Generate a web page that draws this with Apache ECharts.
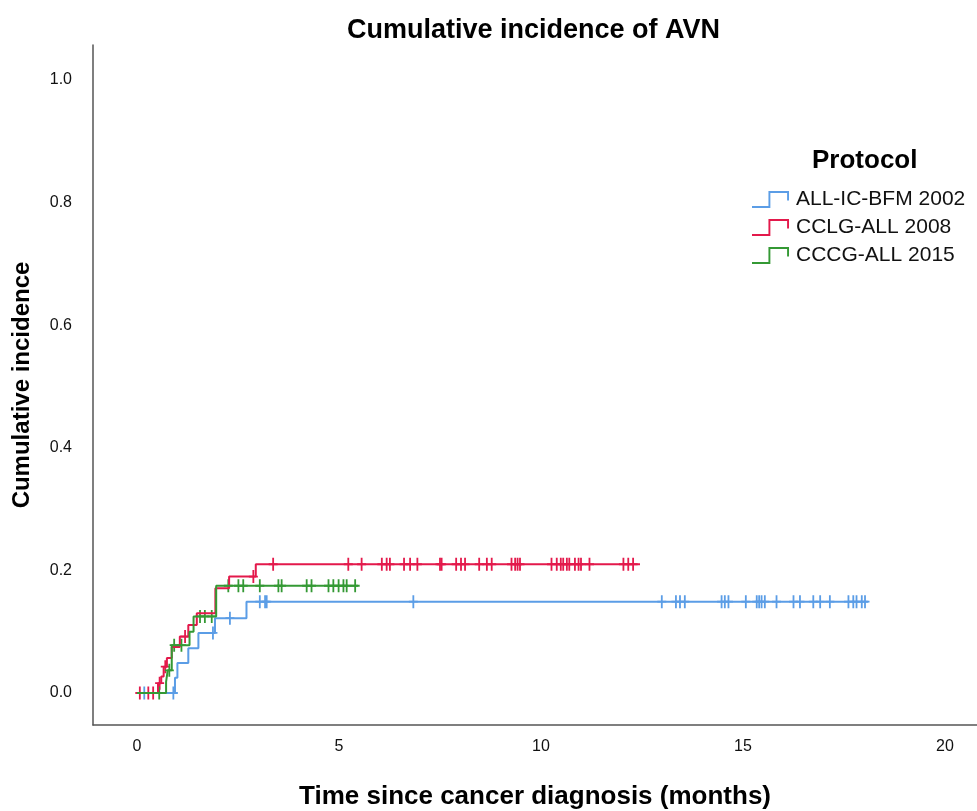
<!DOCTYPE html>
<html>
<head>
<meta charset="utf-8">
<title>Cumulative incidence of AVN</title>
<script src="https://cdn.jsdelivr.net/npm/echarts@6/dist/echarts.min.js"></script>
<style>
  html, body { margin: 0; padding: 0; background: #fff; }
  #chart { width: 977px; height: 811px; }
</style>
</head>
<body>
<div id="chart"></div>
<script>
// step curves: time of each event (months) and cumulative incidence after it
const blueName = 'ALL-IC-BFM 2002'
const blueTimes = [0, 0.94, 1.00, 1.27, 1.52, 1.93, 2.71]
const blueValues = [0, 0.025, 0.049, 0.073, 0.098, 0.122, 0.149]
const blueEnd = 18.10
const blueCensored = [0.18, 0.90, 1.88, 2.30, 3.04, 3.17, 3.21, 6.84,
  12.99, 13.34, 13.44, 13.56, 14.47, 14.55, 14.64, 15.07, 15.34, 15.40, 15.46,
  15.54, 15.83, 16.25, 16.41, 16.74, 16.91, 17.15, 17.61, 17.73, 17.81, 17.94, 18.02]

const redName = 'CCLG-ALL 2008'
const redTimes = [0, 0.52, 0.60, 0.66, 0.74, 0.86, 1.06, 1.27, 1.48, 1.94, 2.28, 2.94]
const redValues = [0, 0.016, 0.027, 0.043, 0.057, 0.075, 0.092, 0.111, 0.130, 0.171, 0.190, 0.210]
const redEnd = 12.45
const redCensored = [0.07, 0.28, 0.40, 0.56, 0.70, 1.19, 2.88, 3.37,
  5.23, 5.56, 6.06, 6.18, 6.26, 6.61, 6.76, 6.94, 7.50, 7.54, 7.90, 8.02, 8.12,
  8.47, 8.66, 8.78, 9.27, 9.36, 9.42, 9.48, 10.26, 10.39, 10.49, 10.55, 10.64,
  10.70, 10.84, 10.93, 10.99, 11.20, 12.04, 12.16, 12.28]

const greenName = 'CCCG-ALL 2015'
const greenTimes = [0, 0.72, 0.76, 0.86, 1.30, 1.40, 1.96]
const greenValues = [0, 0.018, 0.037, 0.078, 0.100, 0.125, 0.175]
const greenEnd = 5.47
const greenCensored = [0.55, 0.80, 0.92, 1.10, 1.56, 1.68, 1.85, 2.26, 2.51, 2.63,
  3.04, 3.50, 3.58, 4.20, 4.32, 4.74, 4.86, 4.99, 5.11, 5.19, 5.40]

const xTicks = [0, 5, 10, 15, 20]
const yTicks = [0, 0.2, 0.4, 0.6, 0.8, 1.0]

const colors = {
  blue: '#5b9de6',
  red: '#e3194b',
  green: '#349934',
}

const font = "'Liberation Sans', Arial, sans-serif"
const stepIcon = 'path://M0,11 L12,11 L12,0 L27,0 L27,7 L25.6,7 L25.6,1.4 L13.4,1.4 L13.4,12.4 L0,12.4 Z'
const censorMark = 'path://M4,0 L6,0 L6,13 L4,13 Z M0,5.6 L10,5.6 L10,7.4 L0,7.4 Z'

function buildSteps(times, values, end) {
  const points = times.map((t, i) => [t, values[i]])
  points.push([end, values[values.length - 1]])
  return points
}

function valueAt(times, values, t) {
  let v = values[0]
  times.forEach((time, i) => {
    if (time <= t) v = values[i]
  })
  return v
}

function buildCensored(times, values, censored) {
  return censored.map((t) => [t, valueAt(times, values, t)])
}

function lineSeries(name, times, values, end, color) {
  return {
    name: name,
    type: 'line',
    step: 'end',
    xAxisIndex: 0,
    yAxisIndex: 0,
    showSymbol: false,
    data: buildSteps(times, values, end),
    lineStyle: { color: color, width: 2 },
    itemStyle: { color: color },
    animation: false,
  }
}

function censorSeries(name, times, values, censored, color) {
  return {
    name: name + ' censored',
    type: 'scatter',
    xAxisIndex: 0,
    yAxisIndex: 0,
    symbol: censorMark,
    symbolSize: [9, 13],
    data: buildCensored(times, values, censored),
    itemStyle: { color: color, opacity: 1 },
    animation: false,
  }
}

const chart = echarts.init(document.getElementById('chart'))
chart.setOption({
  backgroundColor: '#fff',
  textStyle: { fontFamily: font },
  title: [
    {
      text: 'Cumulative incidence of AVN',
      left: 342,
      top: 12,
      textStyle: { fontFamily: font, fontSize: 27, fontWeight: 'bold', color: '#000' },
    },
    {
      text: 'Protocol',
      left: 807,
      top: 143,
      textStyle: { fontFamily: font, fontSize: 26, fontWeight: 'bold', color: '#000' },
    },
  ],
  legend: {
    orient: 'vertical',
    left: 752,
    top: 189,
    padding: 0,
    itemWidth: 41,
    itemHeight: 17,
    itemGap: 7,
    itemStyle: { borderWidth: 0 },
    textStyle: { fontFamily: font, fontSize: 21, color: '#111' },
    data: [
      { name: blueName, icon: stepIcon, itemStyle: { color: colors.blue } },
      { name: redName, icon: stepIcon, itemStyle: { color: colors.red } },
      { name: greenName, icon: stepIcon, itemStyle: { color: colors.green } },
    ],
  },
  grid: [
    // data area: x 0..20, y 0..1
    { left: 137, right: 32, top: 80, bottom: 118, outerBoundsMode: 'none' },
    // frame that carries the visible axis lines and names
    { left: 93, right: 0, top: 45, bottom: 86, outerBoundsMode: 'none' },
  ],
  xAxis: [
    {
      type: 'value',
      gridIndex: 0,
      min: xTicks[0],
      max: xTicks[xTicks.length - 1],
      interval: 5,
      axisLine: { show: false },
      axisTick: { show: false },
      splitLine: { show: false },
      axisLabel: { margin: 46, fontSize: 16, color: '#111', fontFamily: font },
    },
    {
      type: 'value',
      gridIndex: 1,
      min: 0,
      max: 1,
      axisLine: { show: true, lineStyle: { color: '#555', width: 1.5 } },
      axisTick: { show: false },
      splitLine: { show: false },
      axisLabel: { show: false },
      name: 'Time since cancer diagnosis (months)',
      nameLocation: 'middle',
      nameGap: 59,
      nameTextStyle: { fontFamily: font, fontSize: 26, fontWeight: 'bold', color: '#000' },
    },
  ],
  yAxis: [
    {
      type: 'value',
      gridIndex: 0,
      min: yTicks[0],
      max: yTicks[yTicks.length - 1],
      interval: 0.2,
      axisLine: { show: false },
      axisTick: { show: false },
      splitLine: { show: false },
      axisLabel: {
        margin: 65,
        fontSize: 16,
        color: '#111',
        fontFamily: font,
        formatter: (v) => v.toFixed(1),
      },
    },
    {
      type: 'value',
      gridIndex: 1,
      min: 0,
      max: 1,
      axisLine: { show: true, lineStyle: { color: '#555', width: 1.5 } },
      axisTick: { show: false },
      splitLine: { show: false },
      axisLabel: { show: false },
      name: 'Cumulative incidence',
      nameLocation: 'middle',
      nameGap: 59,
      nameTextStyle: { fontFamily: font, fontSize: 24, fontWeight: 'bold', color: '#000' },
    },
  ],
  series: [
    lineSeries(blueName, blueTimes, blueValues, blueEnd, colors.blue),
    censorSeries(blueName, blueTimes, blueValues, blueCensored, colors.blue),
    lineSeries(redName, redTimes, redValues, redEnd, colors.red),
    censorSeries(redName, redTimes, redValues, redCensored, colors.red),
    lineSeries(greenName, greenTimes, greenValues, greenEnd, colors.green),
    censorSeries(greenName, greenTimes, greenValues, greenCensored, colors.green),
  ],
})
</script>
</body>
</html>
